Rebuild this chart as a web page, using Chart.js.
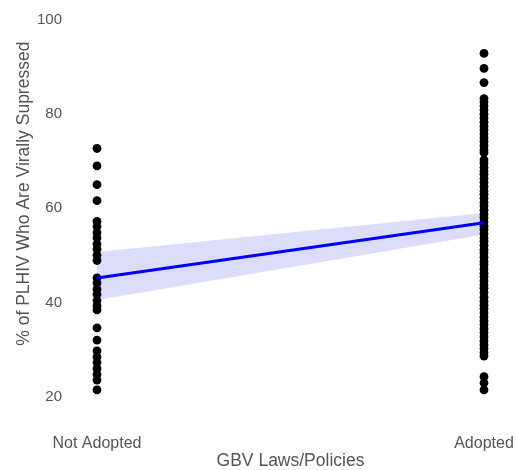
<!DOCTYPE html>
<html>
<head>
<meta charset="utf-8">
<script src="https://cdn.jsdelivr.net/npm/chart.js@4"></script>
<style>
  html, body { margin: 0; padding: 0; background: #fff; }
  #wrap { width: 516px; height: 470px; }
</style>
</head>
<body>
<div id="wrap"><canvas id="gbvChart"></canvas></div>
<script>
// categories on the x axis
const categories = ['Not Adopted', 'Adopted'];

// % virally suppressed, one value per country
const notAdoptedValues = [72.7, 69.0, 65.0, 61.6, 57.2, 56.1, 54.8, 53.7, 52.4, 51.3, 50.0, 48.9,
    45.2, 44.1, 42.8, 41.7, 40.4, 39.3, 38.4, 34.6, 32.0, 29.7, 28.4, 27.2, 25.9, 24.7, 23.5, 21.4];

const adoptedValues = [92.9, 89.7, 86.7, 83.3, 82.6, 81.7, 80.9, 80.0, 79.2, 78.3, 77.4, 76.7,
    75.8, 75.0, 74.2, 73.3, 72.4, 71.8, 70.3, 69.6, 68.7, 67.9, 67.2, 66.3, 65.5, 64.6, 63.7, 63.0,
    62.1, 61.2, 60.5, 59.6, 58.7, 58.0, 57.1, 56.2, 55.5, 54.6, 53.7, 53.0, 52.1, 51.2, 50.5, 49.6,
    48.7, 48.0, 47.1, 46.2, 45.5, 44.6, 43.7, 43.0, 42.1, 41.1, 40.2, 39.4, 38.7, 37.8, 36.9, 36.1,
    35.3, 34.4, 33.6, 32.7, 31.8, 31.0, 30.2, 29.3, 28.6, 24.2, 22.9, 21.4];

// linear fit and its confidence band at each category
const fitValues = [45.2, 56.9];
const bandUpper = [50.7, 59.0];
const bandLower = [40.5, 54.4];

// y axis ticks
const yTicks = [20, 40, 60, 80, 100];

const FONT = 'Liberation Sans, Arial, Helvetica, sans-serif';
const TEXT = '#555555';

function toPoints(cat, values) {
    return values.map(v => ({ x: cat, y: v }));
}

function toLine(values) {
    return categories.map((c, i) => ({ x: c, y: values[i] }));
}

const pointData = toPoints(categories[0], notAdoptedValues)
    .concat(toPoints(categories[1], adoptedValues));

new Chart(document.getElementById('gbvChart'), {
    type: 'scatter',
    data: {
        datasets: [
            {
                type: 'line',
                data: toLine(fitValues),
                borderColor: '#0000ff',
                borderWidth: 3,
                pointRadius: 0,
                fill: false,
                clip: false
            },
            {
                data: pointData,
                backgroundColor: '#000000',
                borderWidth: 0,
                pointRadius: 4.4,
                clip: false
            },
            {
                type: 'line',
                data: toLine(bandUpper),
                borderWidth: 0,
                borderColor: 'rgba(0,0,0,0)',
                pointRadius: 0,
                fill: false
            },
            {
                type: 'line',
                data: toLine(bandLower),
                borderWidth: 0,
                borderColor: 'rgba(0,0,0,0)',
                backgroundColor: 'rgba(80, 80, 235, 0.2)',
                pointRadius: 0,
                fill: '-1'
            }
        ]
    },
    options: {
        responsive: true,
        maintainAspectRatio: false,
        animation: false,
        layout: { padding: { top: 20, right: 32, bottom: 0, left: 0 } },
        plugins: {
            legend: { display: false },
            tooltip: { enabled: false }
        },
        scales: {
            x: {
                type: 'category',
                labels: categories,
                offset: false,
                grid: { display: false },
                border: { display: false },
                ticks: {
                    autoSkip: false,
                    maxRotation: 0,
                    padding: 29,
                    color: TEXT,
                    font: { family: FONT, size: 16 }
                },
                title: {
                    display: true,
                    text: 'GBV Laws/Policies',
                    color: TEXT,
                    padding: { top: 0, bottom: 0 },
                    font: { family: FONT, size: 17.5, lineHeight: 1 }
                },
                afterFit: scale => {
                    scale.height = 73.5;
                    // tick padding should not eat into the plot width
                    scale.paddingLeft = 0;
                    scale.paddingRight = 30;
                }
            },
            y: {
                min: 20,
                max: 100,
                grid: { display: false },
                border: { display: false },
                afterBuildTicks: scale => {
                    scale.ticks = yTicks.map(v => ({ value: v }));
                },
                ticks: {
                    padding: 27,
                    color: TEXT,
                    font: { family: FONT, size: 15 }
                },
                title: {
                    display: true,
                    text: '\u00a0\u00a0\u00a0\u00a0\u00a0\u00a0% of PLHIV Who Are Virally Supressed',
                    color: TEXT,
                    padding: { top: 15, bottom: 0 },
                    font: { family: FONT, size: 17.5, lineHeight: 1 }
                },
                afterFit: scale => {
                    scale.width = 97;
                    scale.paddingTop = 10;
                    scale.paddingBottom = 10;
                }
            }
        }
    }
});
</script>
</body>
</html>
